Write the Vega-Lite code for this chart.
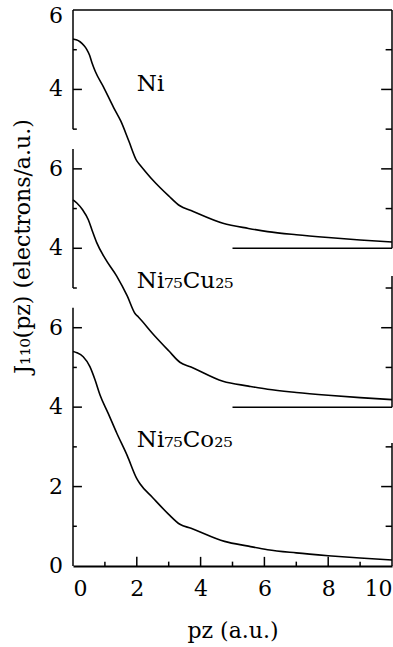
{
  "$schema": "https://vega.github.io/schema/vega-lite/v6.json",
  "width": 319,
  "height": 556,
  "autosize": "none",
  "padding": {"left": 73, "top": 10, "right": 1, "bottom": 81},
  "background": "white",
  "config": {
    "view": {"stroke": null},
    "text": {"font": "DejaVu Serif", "color": "black"},
    "rule": {"color": "black", "strokeWidth": 1.5},
    "axisX": {
      "values": [0, 2, 4, 6, 8, 10], "format": "d", "ticks": false, "grid": false,
      "domain": true, "domainColor": "black", "domainWidth": 2,
      "labelFont": "DejaVu Serif", "labelFontSize": 22, "labelColor": "black",
      "labelPadding": 12, "labelFlush": true,
      "titleFont": "DejaVu Serif", "titleFontSize": 22, "titleFontWeight": "normal",
      "titleColor": "black", "titlePadding": 21
    },
    "axisY": {
      "labels": false, "ticks": false, "domain": false, "grid": false,
      "titleFont": "DejaVu Serif", "titleFontSize": 22, "titleFontWeight": "normal", "titleColor": "black"
    }
  },
  "datasets": {
    "ni": [
      {"p": 0, "J": 5.27}, {"p": 0.1, "J": 5.25}, {"p": 0.22, "J": 5.2}, {"p": 0.35, "J": 5.1},
      {"p": 0.43, "J": 5.01}, {"p": 0.52, "J": 4.86}, {"p": 0.6, "J": 4.66}, {"p": 0.7, "J": 4.45},
      {"p": 0.95, "J": 4.07}, {"p": 1.27, "J": 3.55}, {"p": 1.5, "J": 3.2}, {"p": 1.75, "J": 2.7},
      {"p": 2.0, "J": 2.2}, {"p": 2.1, "J": 2.1}, {"p": 2.5, "J": 1.72}, {"p": 3.0, "J": 1.32},
      {"p": 3.35, "J": 1.07}, {"p": 3.7, "J": 0.95}, {"p": 4.7, "J": 0.63}, {"p": 5.5, "J": 0.5},
      {"p": 6.1, "J": 0.42}, {"p": 7, "J": 0.34}, {"p": 8, "J": 0.27}, {"p": 9, "J": 0.21}, {"p": 10, "J": 0.16}
    ],
    "cu": [
      {"p": 0, "J": 5.22}, {"p": 0.12, "J": 5.14}, {"p": 0.3, "J": 4.97}, {"p": 0.48, "J": 4.72},
      {"p": 0.6, "J": 4.45}, {"p": 0.74, "J": 4.15}, {"p": 1.0, "J": 3.75}, {"p": 1.37, "J": 3.3},
      {"p": 1.7, "J": 2.8}, {"p": 1.95, "J": 2.35}, {"p": 2.05, "J": 2.27}, {"p": 2.5, "J": 1.85},
      {"p": 3.0, "J": 1.42}, {"p": 3.35, "J": 1.13}, {"p": 3.7, "J": 1.01}, {"p": 4.7, "J": 0.65},
      {"p": 5.5, "J": 0.53}, {"p": 6.1, "J": 0.45}, {"p": 7, "J": 0.37}, {"p": 8, "J": 0.3},
      {"p": 9, "J": 0.24}, {"p": 10, "J": 0.19}
    ],
    "co": [
      {"p": 0, "J": 5.4}, {"p": 0.12, "J": 5.37}, {"p": 0.32, "J": 5.27}, {"p": 0.53, "J": 5.02},
      {"p": 0.69, "J": 4.69}, {"p": 0.85, "J": 4.3}, {"p": 1.1, "J": 3.85}, {"p": 1.37, "J": 3.35},
      {"p": 1.7, "J": 2.78}, {"p": 2.0, "J": 2.2}, {"p": 2.1, "J": 2.07}, {"p": 2.5, "J": 1.72},
      {"p": 3.0, "J": 1.3}, {"p": 3.35, "J": 1.05}, {"p": 3.7, "J": 0.95}, {"p": 4.75, "J": 0.62},
      {"p": 5.5, "J": 0.5}, {"p": 6.1, "J": 0.41}, {"p": 7, "J": 0.33}, {"p": 8, "J": 0.26},
      {"p": 9, "J": 0.2}, {"p": 10, "J": 0.15}
    ]
  },
  "layer": [
    {
      "layer": [
        {
          "data": {"name": "co"},
          "mark": {"type": "line", "color": "black", "strokeWidth": 1.6, "interpolate": "monotone"},
          "encoding": {
            "x": {
              "field": "p", "type": "quantitative",
              "scale": {"domain": [0, 10], "nice": false, "zero": false},
              "axis": {"title": "pᴢ (a.u.)"}
            },
            "y": {
              "field": "J", "type": "quantitative",
              "scale": {"domain": [0, 14], "nice": false, "zero": false},
              "axis": {
                "orient": "left", "title": "J₁₁₀(pᴢ) (electrons/a.u.)",
                "titleX": -51, "titleY": 236, "titleBaseline": "middle", "titleAlign": "center", "titleAngle": -90
              }
            }
          }
        },
        {"data": {"values": [{}]}, "mark": "rule", "encoding": {"x": {"datum": 0}, "y": {"datum": 6.5}, "y2": {"datum": 0}}},
        {"data": {"values": [{}]}, "mark": "rule", "encoding": {"x": {"datum": 10}, "y": {"datum": 3.1}, "y2": {"datum": 0}}},
        {"data": {"values": [{"v": 6}, {"v": 4}, {"v": 2}]}, "mark": "rule", "encoding": {"x": {"datum": 0}, "x2": {"datum": 0.28}, "y": {"field": "v", "type": "quantitative"}}},
        {"data": {"values": [{"v": 5}, {"v": 3}, {"v": 1}]}, "mark": "rule", "encoding": {"x": {"datum": 0}, "x2": {"datum": 0.12}, "y": {"field": "v", "type": "quantitative"}}},
        {"data": {"values": [{"v": 2}]}, "mark": "rule", "encoding": {"x": {"datum": 10}, "x2": {"datum": 9.66}, "y": {"field": "v", "type": "quantitative"}}},
        {"data": {"values": [{"v": 3}, {"v": 1}]}, "mark": "rule", "encoding": {"x": {"datum": 10}, "x2": {"datum": 9.8}, "y": {"field": "v", "type": "quantitative"}}},
        {"data": {"values": [{"v": 2}, {"v": 4}, {"v": 6}, {"v": 8}]}, "mark": "rule", "encoding": {"x": {"field": "v", "type": "quantitative"}, "y": {"datum": 0}, "y2": {"datum": 0.23}}},
        {"data": {"values": [{"v": 1}, {"v": 3}, {"v": 5}, {"v": 7}, {"v": 9}]}, "mark": "rule", "encoding": {"x": {"field": "v", "type": "quantitative"}, "y": {"datum": 0}, "y2": {"datum": 0.11}}},
        {"data": {"values": [{"v": 6}, {"v": 4}, {"v": 2}, {"v": 0}]}, "mark": {"type": "text", "align": "right", "baseline": "middle", "dx": -10, "fontSize": 22}, "encoding": {"x": {"datum": 0}, "y": {"field": "v", "type": "quantitative"}, "text": {"field": "v"}}},
        {"data": {"values": [{"name": "Ni₇₅Co₂₅"}]}, "mark": {"type": "text", "align": "left", "baseline": "alphabetic", "fontSize": 23}, "encoding": {"x": {"datum": 2.0}, "y": {"datum": 3.0}, "text": {"field": "name"}}}
      ]
    },
    {
      "layer": [
        {
          "data": {"name": "ni"},
          "mark": {"type": "line", "color": "black", "strokeWidth": 1.6, "interpolate": "monotone"},
          "encoding": {
            "x": {"field": "p", "type": "quantitative", "scale": {"domain": [0, 10], "nice": false, "zero": false}},
            "y": {"field": "J", "type": "quantitative", "scale": {"domain": [-8, 6], "nice": false, "zero": false}, "axis": null}
          }
        },
        {"data": {"values": [{}]}, "mark": "rule", "encoding": {"x": {"datum": 0}, "y": {"datum": 6, "axis": null}, "y2": {"datum": 3}}},
        {"data": {"values": [{}]}, "mark": "rule", "encoding": {"x": {"datum": 10}, "y": {"datum": 6, "axis": null}, "y2": {"datum": 0}}},
        {"data": {"values": [{}]}, "mark": "rule", "encoding": {"x": {"datum": 0}, "x2": {"datum": 10}, "y": {"datum": 6, "axis": null}}},
        {"data": {"values": [{}]}, "mark": "rule", "encoding": {"x": {"datum": 5}, "x2": {"datum": 10}, "y": {"datum": 0, "axis": null}}},
        {"data": {"values": [{"v": 4}]}, "mark": "rule", "encoding": {"x": {"datum": 0}, "x2": {"datum": 0.28}, "y": {"field": "v", "type": "quantitative", "axis": null}}},
        {"data": {"values": [{"v": 5}, {"v": 3}]}, "mark": "rule", "encoding": {"x": {"datum": 0}, "x2": {"datum": 0.12}, "y": {"field": "v", "type": "quantitative", "axis": null}}},
        {"data": {"values": [{"v": 4}, {"v": 2}]}, "mark": "rule", "encoding": {"x": {"datum": 10}, "x2": {"datum": 9.66}, "y": {"field": "v", "type": "quantitative", "axis": null}}},
        {"data": {"values": [{"v": 5}, {"v": 3}, {"v": 1}]}, "mark": "rule", "encoding": {"x": {"datum": 10}, "x2": {"datum": 9.8}, "y": {"field": "v", "type": "quantitative", "axis": null}}},
        {"data": {"values": [{"v": 4}]}, "mark": {"type": "text", "align": "right", "baseline": "middle", "dx": -10, "fontSize": 22}, "encoding": {"x": {"datum": 0}, "y": {"field": "v", "type": "quantitative", "axis": null}, "text": {"field": "v"}}},
        {"data": {"values": [{"v": 6}]}, "mark": {"type": "text", "align": "right", "baseline": "top", "dx": -10, "dy": -4, "fontSize": 22}, "encoding": {"x": {"datum": 0}, "y": {"field": "v", "type": "quantitative", "axis": null}, "text": {"field": "v"}}},
        {"data": {"values": [{"name": "Ni"}]}, "mark": {"type": "text", "align": "left", "baseline": "alphabetic", "fontSize": 23}, "encoding": {"x": {"datum": 2.0}, "y": {"datum": 3.96, "axis": null}, "text": {"field": "name"}}}
      ]
    },
    {
      "layer": [
        {
          "data": {"name": "cu"},
          "mark": {"type": "line", "color": "black", "strokeWidth": 1.6, "interpolate": "monotone"},
          "encoding": {
            "x": {"field": "p", "type": "quantitative", "scale": {"domain": [0, 10], "nice": false, "zero": false}},
            "y": {"field": "J", "type": "quantitative", "scale": {"domain": [-4, 10], "nice": false, "zero": false}, "axis": null}
          }
        },
        {"data": {"values": [{}]}, "mark": "rule", "encoding": {"x": {"datum": 0}, "y": {"datum": 6.5, "axis": null}, "y2": {"datum": 3}}},
        {"data": {"values": [{}]}, "mark": "rule", "encoding": {"x": {"datum": 10}, "y": {"datum": 3.3, "axis": null}, "y2": {"datum": 0}}},
        {"data": {"values": [{}]}, "mark": "rule", "encoding": {"x": {"datum": 5}, "x2": {"datum": 10}, "y": {"datum": 0, "axis": null}}},
        {"data": {"values": [{"v": 6}, {"v": 4}]}, "mark": "rule", "encoding": {"x": {"datum": 0}, "x2": {"datum": 0.28}, "y": {"field": "v", "type": "quantitative", "axis": null}}},
        {"data": {"values": [{"v": 5}, {"v": 3}]}, "mark": "rule", "encoding": {"x": {"datum": 0}, "x2": {"datum": 0.12}, "y": {"field": "v", "type": "quantitative", "axis": null}}},
        {"data": {"values": [{"v": 2}]}, "mark": "rule", "encoding": {"x": {"datum": 10}, "x2": {"datum": 9.66}, "y": {"field": "v", "type": "quantitative", "axis": null}}},
        {"data": {"values": [{"v": 3}, {"v": 1}]}, "mark": "rule", "encoding": {"x": {"datum": 10}, "x2": {"datum": 9.8}, "y": {"field": "v", "type": "quantitative", "axis": null}}},
        {"data": {"values": [{"v": 6}, {"v": 4}]}, "mark": {"type": "text", "align": "right", "baseline": "middle", "dx": -10, "fontSize": 22}, "encoding": {"x": {"datum": 0}, "y": {"field": "v", "type": "quantitative", "axis": null}, "text": {"field": "v"}}},
        {"data": {"values": [{"name": "Ni₇₅Cu₂₅"}]}, "mark": {"type": "text", "align": "left", "baseline": "alphabetic", "fontSize": 23}, "encoding": {"x": {"datum": 2.0}, "y": {"datum": 3.0, "axis": null}, "text": {"field": "name"}}}
      ]
    }
  ],
  "resolve": {"scale": {"y": "independent"}}
}
